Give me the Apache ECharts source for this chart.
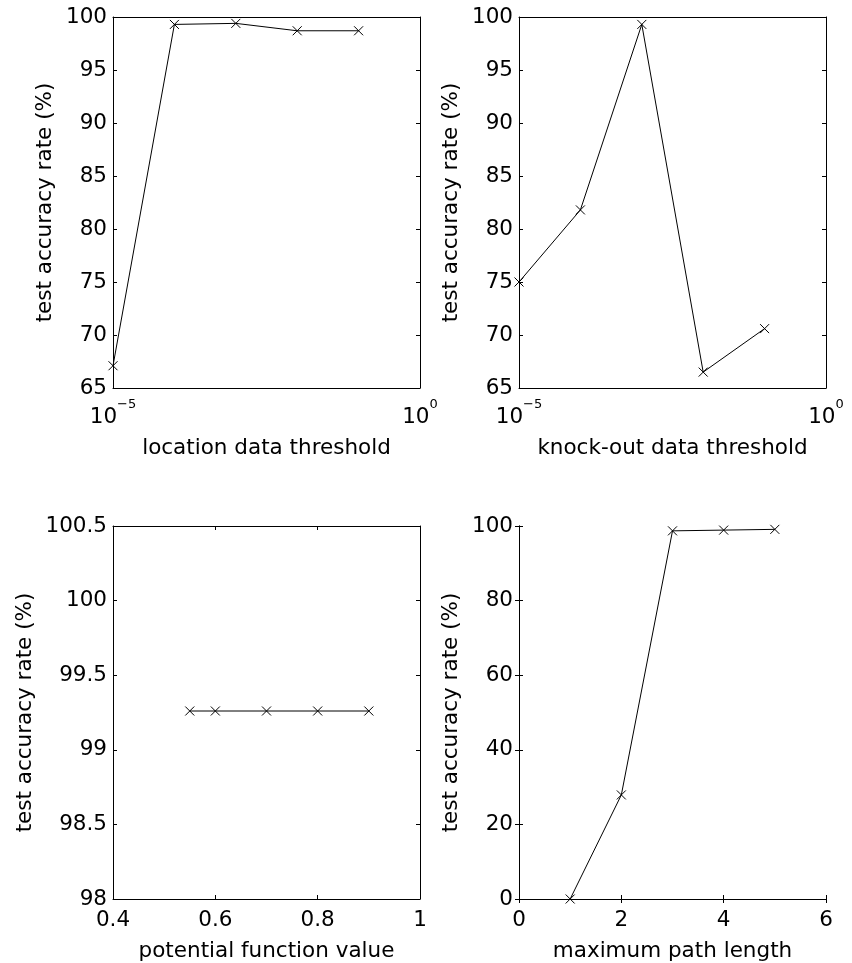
<!DOCTYPE html>
<html><head><meta charset="utf-8">
<script src="https://cdn.jsdelivr.net/npm/echarts@6/dist/echarts.min.js"></script>
<style>html,body{margin:0;padding:0;background:#fff}#c{width:852px;height:963px}</style>
</head><body><div id="c"></div>
<script>
// ---- data ----
const locThreshold = [1e-5, 1e-4, 1e-3, 1e-2, 1e-1];
const locAcc = [67.1, 99.3, 99.4, 98.7, 98.7];
const knockThreshold = [1e-5, 1e-4, 1e-3, 1e-2, 1e-1];
const knockAcc = [75.0, 81.8, 99.3, 66.5, 70.6];
const potentialValue = [0.55, 0.6, 0.7, 0.8, 0.9];
const potentialAcc = [99.26, 99.26, 99.26, 99.26, 99.26];
const pathLength = [1, 2, 3, 4, 5];
const pathAcc = [0, 27.9, 98.7, 98.9, 99.1];

const yLabel = 'test accuracy rate (%)';
const xNames = ['location data threshold', 'knock-out data threshold', 'potential function value', 'maximum path length'];

const FONT = 'DejaVu Sans';
const FS = 21.5;
const black = '#000';

const chart = echarts.init(document.getElementById('c'), null, {renderer: 'canvas'});

const grids = [
  {left: 113, top: 17, width: 307, height: 371},
  {left: 519, top: 17, width: 307, height: 371},
  {left: 113, top: 526, width: 307, height: 373},
  {left: 519, top: 526, width: 307, height: 373}
];

function logFmt(v) {
  const e = Math.round(Math.log10(v));
  if (e === -5) return '{b|10}{s|\u22125}';
  if (e === 0) return '{b|10}{s|0}';
  return '';
}
const logRich = {
  b: {fontFamily: FONT, fontSize: FS, color: black, lineHeight: 30, verticalAlign: 'bottom'},
  s: {fontFamily: FONT, fontSize: 13, color: black, lineHeight: 13, verticalAlign: 'top'}
};

const lineAx = {show: true, lineStyle: {color: black, width: 1}};
const tickIn = {show: true, inside: true, length: 4, lineStyle: {color: black, width: 1}};

function xPair(gi, cfg) {
  const base = {
    gridIndex: gi, splitLine: {show: false}, axisLine: lineAx
  };
  const isLog = cfg.type === 'log';
  const bottom = Object.assign({}, base, cfg, {
    position: 'bottom',
    name: xNames[gi], nameLocation: 'middle', nameGap: isLog ? 49 : 41,
    nameTextStyle: {fontFamily: FONT, fontSize: FS, color: black, verticalAlign: 'top'},
    axisLabel: isLog
      ? {formatter: logFmt, rich: logRich, margin: 10, showMinLabel: true, showMaxLabel: true}
      : {fontFamily: FONT, fontSize: FS, color: black, margin: 10},
    axisTick: isLog ? {show: false} : tickIn,
    minorTick: {show: false}
  });
  const top = Object.assign({}, base, cfg, {
    position: 'top', axisLabel: {show: false},
    axisTick: isLog ? {show: false} : tickIn,
    minorTick: {show: false}
  });
  return [bottom, top];
}
function yPair(gi, cfg) {
  const base = {gridIndex: gi, type: 'value', splitLine: {show: false}, axisLine: lineAx, axisTick: tickIn};
  const gap = cfg.gap;
  const c = Object.assign({}, cfg); delete c.gap;
  const left = Object.assign({}, base, c, {
    position: 'left',
    name: yLabel, nameLocation: 'middle', nameGap: gap, nameRotate: 90,
    nameTextStyle: {fontFamily: FONT, fontSize: FS, color: black},
    axisLabel: {fontFamily: FONT, fontSize: FS, color: black, margin: 6}
  });
  const right = Object.assign({}, base, c, {position: 'right', axisLabel: {show: false}});
  return [left, right];
}

const xAxis = [].concat(
  xPair(0, {type: 'log', logBase: 10, min: 1e-5, max: 1}),
  xPair(1, {type: 'log', logBase: 10, min: 1e-5, max: 1}),
  xPair(2, {type: 'value', min: 0.4, max: 1, interval: 0.2}),
  xPair(3, {type: 'value', min: 0, max: 6, interval: 2})
);
const yAxis = [].concat(
  yPair(0, {min: 65, max: 100, interval: 5, gap: 57}),
  yPair(1, {min: 65, max: 100, interval: 5, gap: 57}),
  yPair(2, {min: 98, max: 100.5, interval: 0.5, gap: 77}),
  yPair(3, {min: 0, max: 100, interval: 20, gap: 57})
);

const xMark = 'path://M0,0L10,10M10,0L0,10';
function mkSeries(i, xs, ys) {
  return {
    type: 'line', xAxisIndex: 2 * i, yAxisIndex: 2 * i,
    data: xs.map((x, k) => [x, ys[k]]),
    symbol: xMark, symbolSize: 9, showSymbol: true,
    lineStyle: {color: black, width: 1},
    itemStyle: {color: 'rgba(0,0,0,0)', borderColor: black, borderWidth: 1},
    animation: false, clip: false
  };
}

chart.setOption({
  animation: false,
  backgroundColor: '#fff',
  grid: grids,
  xAxis: xAxis,
  yAxis: yAxis,
  series: [
    mkSeries(0, locThreshold, locAcc),
    mkSeries(1, knockThreshold, knockAcc),
    mkSeries(2, potentialValue, potentialAcc),
    mkSeries(3, pathLength, pathAcc)
  ]
});
</script>
</body></html>
